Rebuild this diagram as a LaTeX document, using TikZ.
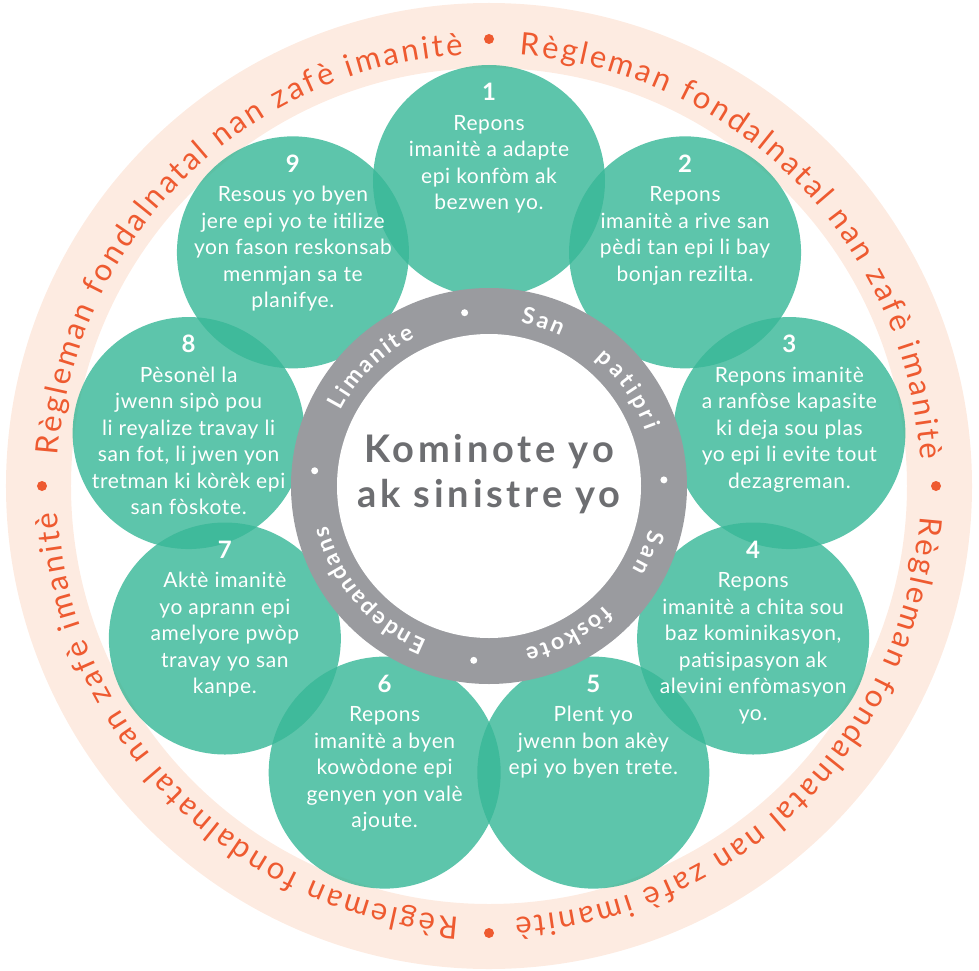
\documentclass[tikz,border=0pt]{standalone}
\usepackage{fontspec}
\setmainfont{Lato}
\usetikzlibrary{decorations.text}

\definecolor{petalgreen}{RGB}{56,183,151}
\definecolor{peach}{RGB}{253,235,225}
\definecolor{rust}{RGB}{238,90,48}
\definecolor{hubgray}{RGB}{154,155,159}
\definecolor{titlegray}{RGB}{109,110,113}

\newcommand{\ringfont}{\fontsize{31}{34}\selectfont}
\newcommand{\hubfont}{\fontsize{23}{26}\selectfont\bfseries}

\tikzset{
  petal/.style={circle, fill=petalgreen, fill opacity=0.81, minimum size=232pt, inner sep=0pt},
  petaltext/.style={text=white, align=center, anchor=north, inner sep=0pt, font=\fontsize{21}{26.5}\selectfont\addfontfeature{LetterSpace=3}},
  rustdot/.style={circle, fill=rust, inner sep=0pt, minimum size=10pt},
  hubdot/.style={circle, fill=white, inner sep=0pt, minimum size=7pt},
  ringword/.style={decorate, decoration={text along path, text align=fit to path, text color=rust, text={|\ringfont|#1}}},
  hubword/.style={decorate, decoration={text along path, text align=fit to path, text color=white, text={|\hubfont|#1}}}
}

\newcommand{\numtop}[1]{{\fontsize{24}{26.5}\selectfont\bfseries #1}\\[3pt]}

\begin{document}
\begin{tikzpicture}[x=1pt, y=1pt]
    \useasboundingbox (-489,-484) rectangle (490,486);

    % outer band
    \fill[peach, even odd rule] (0,0) circle[radius=483] (0,0) circle[radius=418];
    \node[rustdot] (rd_top) at (90:447) {};
    \node[rustdot] (rd_right) at (0:447) {};
    \node[rustdot] (rd_bottom) at (-90:447) {};
    \node[rustdot] (rd_left) at (180:447) {};
    \path[ringword={Règleman fondalnatal nan zafè imanitè}] (86:432) arc[start angle=86, end angle=3.5, radius=432];
    \path[ringword={Règleman fondalnatal nan zafè imanitè}] (-4:432) arc[start angle=-4, end angle=-86.5, radius=432];
    \path[ringword={Règleman fondalnatal nan zafè imanitè}] (-94:432) arc[start angle=-94, end angle=-176.5, radius=432];
    \path[ringword={Règleman fondalnatal nan zafè imanitè}] (176:432) arc[start angle=176, end angle=93.5, radius=432];

    % petals
    \node[petal] (petal_1) at (90:305) {};
    \node[petal] (petal_2) at (50:305) {};
    \node[petal] (petal_3) at (10:305) {};
    \node[petal] (petal_4) at (-30:305) {};
    \node[petal] (petal_5) at (-70:305) {};
    \node[petal] (petal_6) at (-110:305) {};
    \node[petal] (petal_7) at (-150:305) {};
    \node[petal] (petal_8) at (170:305) {};
    \node[petal] (petal_9) at (130:305) {};

    \node[petaltext] (txt_1) at ([yshift=98pt]petal_1.center) {\numtop{1}Repons\\imanitè a adapte\\epi konfòm ak\\bezwen yo.};
    \node[petaltext] (txt_2) at ([yshift=98pt]petal_2.center) {\numtop{2}Repons\\imanitè a rive san\\pèdi tan epi li bay\\bonjan rezilta.};
    \node[petaltext] (txt_3) at ([yshift=98pt]petal_3.center) {\numtop{3}Repons imanitè\\a ranfòse kapasite\\ki deja sou plas\\yo epi li evite tout\\dezagreman.};
    \node[petaltext] (txt_4) at ([yshift=98pt]petal_4.center) {\numtop{4}Repons\\imanitè a chita sou\\baz kominikasyon,\\patisipasyon ak\\alevini enfòmasyon\\yo.};
    \node[petaltext] (txt_5) at ([yshift=98pt]petal_5.center) {\numtop{5}Plent yo\\jwenn bon akèy\\epi yo byen trete.};
    \node[petaltext] (txt_6) at ([yshift=98pt]petal_6.center) {\numtop{6}Repons\\imanitè a byen\\kowòdone epi\\genyen yon valè\\ajoute.};
    \node[petaltext] (txt_7) at ([yshift=98pt]petal_7.center) {\numtop{7}Aktè imanitè\\yo aprann epi\\amelyore pwòp\\travay yo san\\kanpe.};
    \node[petaltext] (txt_8) at ([yshift=98pt]petal_8.center) {\numtop{8}Pèsonèl la\\jwenn sipò pou\\li reyalize travay li\\san fot, li jwen yon\\tretman ki kòrèk epi\\san fòskote.};
    \node[petaltext] (txt_9) at ([yshift=98pt]petal_9.center) {\numtop{9}Resous yo byen\\jere epi yo te itilize\\yon fason reskonsab\\menmjan sa te\\planifye.};

    % hub
    \fill[hubgray] (0,0) circle[radius=198];
    \fill[white] (0,0) circle[radius=152];
    \node[hubdot] (hd_1) at (98:175) {};
    \node[hubdot] (hd_2) at (2:175) {};
    \node[hubdot] (hd_3) at (-95:175) {};
    \node[hubdot] (hd_4) at (175:175) {};
    \path[hubword={San}] (79:166) arc[start angle=79, end angle=64.5, radius=166];
    \path[hubword={patipri}] (50:166) arc[start angle=50, end angle=19.5, radius=166];
    \path[hubword={San}] (-15:166) arc[start angle=-15, end angle=-30.5, radius=166];
    \path[hubword={fòskote}] (-46:166) arc[start angle=-46, end angle=-77.5, radius=166];
    \path[hubword={Endepandans}] (-112:166) arc[start angle=-112, end angle=-166, radius=166];
    \path[hubword={Limanite}] (153:166) arc[start angle=153, end angle=116.5, radius=166];

    \node[text=titlegray, align=center, font=\fontsize{38}{45}\selectfont\bfseries\addfontfeature{LetterSpace=10}] (title) at (0,12) {Kominote yo\\ak sinistre yo};

\end{tikzpicture}
\end{document}
